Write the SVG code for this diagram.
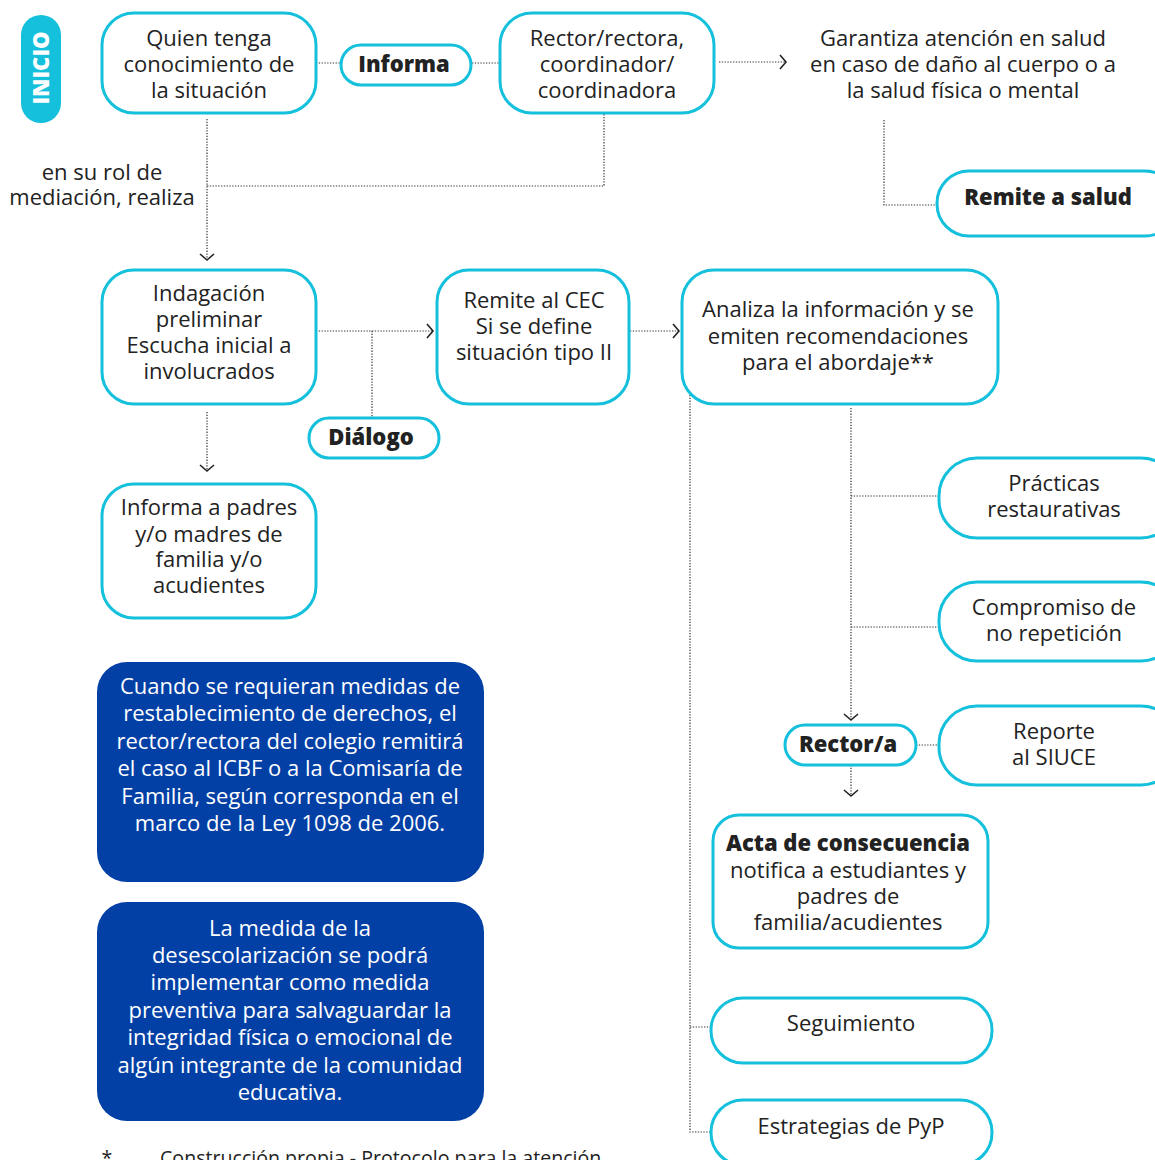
<svg xmlns="http://www.w3.org/2000/svg" width="1155" height="1160" viewBox="0 0 1155 1160">
<style>
text{font-family:"Open Sans","Noto Sans","DejaVu Sans",sans-serif;font-size:22px;fill:#222;text-anchor:middle}
.b{font-weight:800}
.w{fill:#fff}
.box{fill:#fff;stroke:#14c0dc;stroke-width:3}
.blue{fill:#0340a6}
.c{fill:none;stroke:#333;stroke-width:1.2;stroke-dasharray:1.3 1.5}
.fn{font-size:19.6px}
</style>
<defs>
<marker id="ar" markerWidth="12" markerHeight="16" refX="7" refY="8" orient="auto" markerUnits="userSpaceOnUse">
<path d="M1,1 L7,8 L1,15" fill="none" stroke="#222" stroke-width="1.6"/>
</marker>
</defs>
<rect width="1155" height="1160" fill="#fff"/>
<g id="connectors">
<path class="c" d="M316,63 H341"/>
<path class="c" d="M472,63 H500"/>
<path class="c" d="M719,62 H786" marker-end="url(#ar)"/>
<path class="c" d="M884,120 V205 H937"/>
<path class="c" d="M207,119 V260" marker-end="url(#ar)"/>
<path class="c" d="M207,186 H604 V113"/>
<path class="c" d="M316,331 H433" marker-end="url(#ar)"/>
<path class="c" d="M372,331 V418"/>
<path class="c" d="M207,412 V471" marker-end="url(#ar)"/>
<path class="c" d="M630,331 H679" marker-end="url(#ar)"/>
<path class="c" d="M851,408 V720" marker-end="url(#ar)"/>
<path class="c" d="M851,496 H939"/>
<path class="c" d="M851,627 H939"/>
<path class="c" d="M916,745 H939"/>
<path class="c" d="M851,765 V796" marker-end="url(#ar)"/>
<path class="c" d="M690,395 V1132 H711"/>
<path class="c" d="M690,1027 H711"/>
</g>
<g id="inicio">
<rect x="21" y="15" width="40" height="108" rx="20" fill="#14c0dc"/>
<text class="b w" transform="translate(49,68) rotate(-90)">INICIO</text>
</g>
<g id="quien">
<rect class="box" x="102" y="13" width="214" height="100" rx="32"/>
<text x="209" y="46">Quien tenga</text>
<text x="209" y="72">conocimiento de</text>
<text x="209" y="98">la situación</text>
</g>
<g id="informa">
<rect class="box" x="341" y="45" width="130" height="40" rx="20"/>
<text class="b" x="404" y="72">Informa</text>
</g>
<g id="rector">
<rect class="box" x="500" y="13" width="214" height="100" rx="32"/>
<text x="607" y="46">Rector/rectora,</text>
<text x="607" y="72">coordinador/</text>
<text x="607" y="98">coordinadora</text>
</g>
<g id="garantiza">
<text x="963" y="46">Garantiza atención en salud</text>
<text x="963" y="72">en caso de daño al cuerpo o a</text>
<text x="963" y="98">la salud física o mental</text>
</g>
<g id="remite-salud">
<rect class="box" x="937" y="171" width="240" height="65" rx="32"/>
<text class="b" x="1048" y="205">Remite a salud</text>
</g>
<g id="rol-label">
<text x="102" y="180">en su rol de</text>
<text x="102" y="205">mediación, realiza</text>
</g>
<g id="indagacion">
<rect class="box" x="102" y="270" width="214" height="134" rx="32"/>
<text x="209" y="301">Indagación</text>
<text x="209" y="327">preliminar</text>
<text x="209" y="353">Escucha inicial a</text>
<text x="209" y="379">involucrados</text>
</g>
<g id="dialogo">
<rect class="box" x="309" y="418" width="130" height="40" rx="20"/>
<text class="b" x="371" y="445">Diálogo</text>
</g>
<g id="informa-padres">
<rect class="box" x="102" y="484" width="214" height="134" rx="32"/>
<text x="209" y="515">Informa a padres</text>
<text x="209" y="542">y/o madres de</text>
<text x="209" y="567">familia y/o</text>
<text x="209" y="593">acudientes</text>
</g>
<g id="cec">
<rect class="box" x="437" y="270" width="192" height="134" rx="32"/>
<text x="534" y="308">Remite al CEC</text>
<text x="534" y="334">Si se define</text>
<text x="534" y="360">situación tipo II</text>
</g>
<g id="analiza">
<rect class="box" x="682" y="270" width="316" height="134" rx="32"/>
<text x="838" y="317">Analiza la información y se</text>
<text x="838" y="344">emiten recomendaciones</text>
<text x="838" y="370">para el abordaje**</text>
</g>
<g id="practicas">
<rect class="box" x="939" y="458" width="240" height="80" rx="38"/>
<text x="1054" y="491">Prácticas</text>
<text x="1054" y="517">restaurativas</text>
</g>
<g id="compromiso">
<rect class="box" x="939" y="582" width="240" height="79" rx="38"/>
<text x="1054" y="615">Compromiso de</text>
<text x="1054" y="641">no repetición</text>
</g>
<g id="reporte">
<rect class="box" x="939" y="706" width="240" height="79" rx="38"/>
<text x="1054" y="739">Reporte</text>
<text x="1054" y="765">al SIUCE</text>
</g>
<g id="rectora">
<rect class="box" x="785" y="725" width="131" height="40" rx="20"/>
<text class="b" x="848" y="752">Rector/a</text>
</g>
<g id="acta">
<rect class="box" x="713" y="815" width="275" height="133" rx="26"/>
<text class="b" x="848" y="851">Acta de consecuencia</text>
<text x="848" y="878">notifica a estudiantes y</text>
<text x="848" y="904">padres de</text>
<text x="848" y="930">familia/acudientes</text>
</g>
<g id="seguimiento">
<rect class="box" x="711" y="998" width="281" height="65" rx="32"/>
<text x="851" y="1031">Seguimiento</text>
</g>
<g id="estrategias">
<rect class="box" x="711" y="1100" width="281" height="65" rx="32"/>
<text x="851" y="1134">Estrategias de PyP</text>
</g>
<g id="nota-icbf">
<rect class="blue" x="97" y="662" width="387" height="220" rx="30"/>
<text class="w" x="290" y="694">Cuando se requieran medidas de</text>
<text class="w" x="290" y="721">restablecimiento de derechos, el</text>
<text class="w" x="290" y="749">rector/rectora del colegio remitirá</text>
<text class="w" x="290" y="776">el caso al ICBF o a la Comisaría de</text>
<text class="w" x="290" y="804">Familia, según corresponda en el</text>
<text class="w" x="290" y="831">marco de la Ley 1098 de 2006.</text>
</g>
<g id="nota-desescolarizacion">
<rect class="blue" x="97" y="902" width="387" height="219" rx="30"/>
<text class="w" x="290" y="936">La medida de la</text>
<text class="w" x="290" y="963">desescolarización se podrá</text>
<text class="w" x="290" y="990">implementar como medida</text>
<text class="w" x="290" y="1018">preventiva para salvaguardar la</text>
<text class="w" x="290" y="1045">integridad física o emocional de</text>
<text class="w" x="290" y="1073">algún integrante de la comunidad</text>
<text class="w" x="290" y="1100">educativa.</text>
</g>
<g id="footnote">
<text class="fn" x="107" y="1165">*</text>
<text class="fn" x="160" y="1165" style="text-anchor:start">Construcción propia - Protocolo para la atención</text>
</g>
</svg>
